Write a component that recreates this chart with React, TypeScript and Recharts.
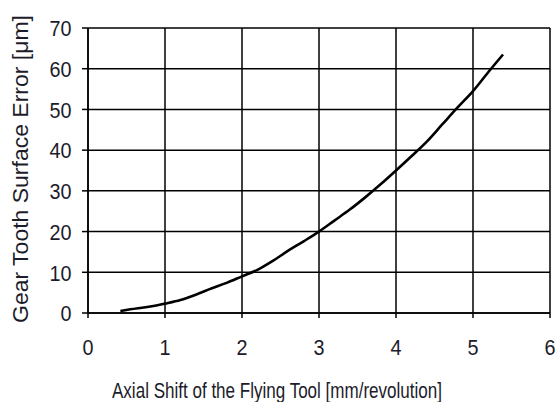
import React from "react";
import { LineChart, Line, XAxis, YAxis, CartesianGrid } from "recharts";

const shiftValues = [0.42, 0.55, 0.7, 0.85, 1.0, 1.2, 1.4, 1.6, 1.8, 2.0, 2.2, 2.4, 2.6, 2.8, 3.0, 3.2, 3.4, 3.6, 3.8, 4.0, 4.2, 4.4, 4.6, 4.8, 5.0, 5.2, 5.39];
const errorValues = [0.5, 0.9, 1.3, 1.7, 2.3, 3.2, 4.5, 6.0, 7.4, 9.0, 10.6, 12.8, 15.3, 17.6, 20.0, 22.7, 25.4, 28.4, 31.6, 35.0, 38.5, 42.1, 46.3, 50.5, 54.5, 59.2, 63.5];
const xTicks = [0, 1, 2, 3, 4, 5, 6];
const yTicks = [0, 10, 20, 30, 40, 50, 60, 70];
const xTitle = "Axial Shift of the Flying Tool [mm/revolution]";
const yTitle = "Gear Tooth Surface Error [\u03bcm]";

const data = shiftValues.map((x, i) => ({ x, y: errorValues[i] }));

const FONT = "'Liberation Sans', Arial, sans-serif";
const TEXT = "#1c1c2a";

const XTick = (props: any) => {
  const { x, payload } = props;
  return (
    <text
      transform={`translate(${x},355) scale(0.9,1)`}
      textAnchor="middle"
      fontFamily={FONT}
      fontSize={22}
      fill={TEXT}
    >
      {payload.value}
    </text>
  );
};

const YTick = (props: any) => {
  const { y, payload } = props;
  return (
    <text
      transform={`translate(71.5,${y + 8.3}) scale(0.9,1)`}
      textAnchor="end"
      fontFamily={FONT}
      fontSize={22}
      fill={TEXT}
    >
      {payload.value}
    </text>
  );
};

export default function App() {
  return (
    <div style={{ position: "absolute", left: 0, top: 0, width: 557, height: 402, background: "#fff" }}>
      <LineChart width={557} height={402} data={data} margin={{ top: 28, right: 7, bottom: 0, left: 0 }}>
        <CartesianGrid stroke="#000" strokeWidth={1.5} />
        <XAxis
          dataKey="x"
          type="number"
          domain={[0, 6]}
          ticks={xTicks}
          height={89}
          tickSize={5}
          axisLine={{ stroke: "#000", strokeWidth: 1.5 }}
          tickLine={{ stroke: "#000", strokeWidth: 1.5 }}
          tick={<XTick />}
          interval={0}
        />
        <YAxis
          type="number"
          domain={[0, 70]}
          ticks={yTicks}
          width={88}
          tickSize={6}
          axisLine={{ stroke: "#000", strokeWidth: 1.5 }}
          tickLine={{ stroke: "#000", strokeWidth: 1.5 }}
          tick={<YTick />}
          interval={0}
        />
        <Line
          dataKey="y"
          type="monotone"
          stroke="#000"
          strokeWidth={2.6}
          dot={false}
          isAnimationActive={false}
        />
        <text
          x={277}
          y={398}
          textAnchor="middle"
          fontFamily={FONT}
          fontSize={22}
          fill={TEXT}
          textLength={330}
          lengthAdjust="spacingAndGlyphs"
        >
          {xTitle}
        </text>
        <text
          transform="translate(28,169) rotate(-90)"
          textAnchor="middle"
          fontFamily={FONT}
          fontSize={22}
          fill={TEXT}
          textLength={308}
          lengthAdjust="spacingAndGlyphs"
        >
          {yTitle}
        </text>
      </LineChart>
    </div>
  );
}
